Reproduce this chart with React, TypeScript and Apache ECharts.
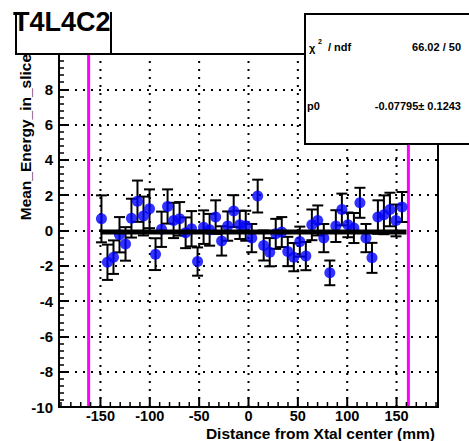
import React, { useEffect, useRef } from "react";
import * as echarts from "echarts";

const FONT = "'Liberation Sans', Arial, Helvetica, sans-serif";

const xValues = [
  -149.0, -142.9, -136.8, -130.7, -124.6, -118.6, -112.5, -106.4, -100.3, -94.2,
  -88.1, -82.0, -75.9, -69.8, -63.7, -57.7, -51.6, -45.5, -39.4, -33.3,
  -27.2, -21.1, -15.0, -8.9, -2.8, 3.3, 9.3, 15.4, 21.5, 27.6,
  33.7, 39.8, 45.9, 52.0, 58.1, 64.2, 70.2, 76.3, 82.4, 88.5,
  94.6, 100.7, 106.8, 112.9, 119.0, 125.1, 131.1, 137.2, 143.3, 149.4,
  155.5,
];
const yValues = [
  0.66, -1.8, -1.51, -0.24, -0.76, 0.7, 1.66, 0.82, 1.23, -1.34,
  0.07, 1.36, 0.57, 0.66, -0.13, 0.1, -1.76, 0.19, 0.04, 0.76,
  -0.59, 0.25, 1.1, 0.32, 0.27, -0.43, 1.95, -0.85, -1.23, -0.19,
  -0.09, -1.19, -1.51, -0.63, -1.45, 0.32, 0.57, -0.43, -2.4, 0.25,
  1.19, 0.32, 0.14, 1.57, -0.43, -1.55, 0.76, 0.89, 1.19, 0.57,
  1.33,
];
const yErrors = [
  1.33, 1.0, 0.95, 1.0, 0.95, 1.1, 1.17, 1.1, 1.1, 0.9,
  1.0, 0.97, 1.0, 0.95, 0.87, 1.0, 0.8, 0.95, 0.9, 0.95,
  0.83, 0.83, 0.9, 0.8, 0.85, 0.8, 0.93, 0.85, 0.8, 0.85,
  0.85, 0.83, 0.8, 0.85, 0.8, 0.87, 0.85, 0.8, 0.7, 0.9,
  0.9, 0.7, 0.85, 0.85, 0.8, 0.85, 0.95, 1.1, 0.95, 0.9,
  0.85,
];

const fitP0 = -0.07795;
const fitRange = [-150, 160];
const boundaryX = [-162, 162];

const xMin = -192;
const xMax = 192;
const yMin = -10;
const yMax = 10;
const xMajorTicks = [-150, -100, -50, 0, 50, 100, 150];
const xMinorTicks = [
  -190, -180, -170, -160, -140, -130, -120, -110, -90, -80, -70, -60, -40, -30, -20, -10,
  10, 20, 30, 40, 60, 70, 80, 90, 110, 120, 130, 140, 160, 170, 180, 190,
];

const titleText = "T4L4C2";
const xTitle = "Distance from Xtal center (mm)";
const yTitle = "Mean_Energy_in_slice";
const statsChi = "66.02 / 50";
const statsP0 = "-0.07795\u00b1 0.1243";

export default function App() {
  const ref = useRef<HTMLDivElement>(null);
  useEffect(() => {
    if (!ref.current) return;
    const chart = echarts.init(ref.current, null, { renderer: "svg" });

    const pointData = xValues.map((x, i) => [x, yValues[i]]);
    const errData = xValues.map((x, i) => [x, yValues[i], yErrors[i]]);
    const fitData = fitRange.map((x) => [x, fitP0]);
    const tickData = [
      ...xMajorTicks.map((v) => [v, 0, 10]),
      ...xMinorTicks.map((v) => [v, 0, 5]),
    ];

    const option: any = {
      animation: false,
      backgroundColor: "#fff",
      grid: {
        left: 59,
        top: 54,
        width: 379,
        height: 353,
        show: true,
        borderColor: "#000",
        borderWidth: 2,
        backgroundColor: "transparent",
      },
      xAxis: {
        type: "value",
        min: xMin,
        max: xMax,
        axisLine: { show: true, onZero: false, lineStyle: { color: "#000", width: 2 } },
        axisTick: { show: false },
        splitLine: { show: false },
        axisLabel: {
          customValues: xMajorTicks,
          color: "#000",
          fontFamily: FONT,
          fontWeight: "bold",
          fontSize: 14.5,
          lineHeight: 13,
          margin: 2.5,
        },
      },
      yAxis: {
        type: "value",
        min: yMin,
        max: yMax,
        interval: 2,
        axisLine: { show: true, onZero: false, lineStyle: { color: "#000", width: 2 } },
        axisTick: { show: true, inside: true, length: 10, lineStyle: { color: "#000", width: 2 } },
        minorTick: { show: true, splitNumber: 5, length: 5, lineStyle: { color: "#000", width: 1.5 } },
        splitLine: { show: true, lineStyle: { color: "#000", width: 2, type: [2, 6] } },
        axisLabel: {
          showMaxLabel: false,
          color: "#000",
          fontFamily: FONT,
          fontWeight: "bold",
          fontSize: 15,
          lineHeight: 13,
          margin: 6,
        },
      },
      series: [
        {
          type: "custom",
          name: "xgrid",
          z: 1,
          silent: true,
          data: xMajorTicks.map((v) => [v, 0]),
          encode: { x: 0, y: 1 },
          renderItem: (params: any, api: any) => {
            const v = api.value(0);
            const a = api.coord([v, yMin]);
            const b = api.coord([v, yMax]);
            return {
              type: "line",
              shape: { x1: a[0], y1: a[1], x2: b[0], y2: b[1] },
              style: { stroke: "#000", lineWidth: 2, lineDash: [2, 6] },
            };
          },
        },
        {
          type: "custom",
          name: "boundaries",
          z: 2,
          silent: true,
          data: boundaryX.map((v) => [v, 0]),
          encode: { x: 0, y: 1 },
          renderItem: (params: any, api: any) => {
            const v = api.value(0);
            const a = api.coord([v, yMin]);
            const b = api.coord([v, yMax]);
            return {
              type: "line",
              shape: { x1: a[0], y1: a[1] - 1, x2: b[0], y2: b[1] + 1 },
              style: { stroke: "#ff00ff", lineWidth: 3 },
            };
          },
        },
        {
          type: "custom",
          name: "errors",
          z: 3,
          silent: true,
          data: errData,
          encode: { x: 0, y: 1 },
          renderItem: (params: any, api: any) => {
            const x = api.value(0);
            const y = api.value(1);
            const e = api.value(2);
            const t = api.coord([x, y + e]);
            const b = api.coord([x, y - e]);
            const cw = 5.5;
            const st = { stroke: "#000", lineWidth: 2 };
            return {
              type: "group",
              children: [
                { type: "line", shape: { x1: t[0], y1: t[1], x2: b[0], y2: b[1] }, style: st },
                { type: "line", shape: { x1: t[0] - cw, y1: t[1], x2: t[0] + cw, y2: t[1] }, style: st },
                { type: "line", shape: { x1: b[0] - cw, y1: b[1], x2: b[0] + cw, y2: b[1] }, style: st },
              ],
            };
          },
        },
        {
          type: "scatter",
          name: "points",
          z: 4,
          data: pointData,
          symbol: "circle",
          symbolSize: 11,
          itemStyle: { color: "#0000ff" },
        },
        {
          type: "line",
          name: "fit",
          z: 5,
          data: fitData,
          symbol: "none",
          lineStyle: { color: "#000", width: 5 },
        },
        {
          type: "custom",
          name: "xticks",
          z: 6,
          silent: true,
          data: tickData,
          encode: { x: 0, y: 1 },
          renderItem: (params: any, api: any) => {
            const v = api.value(0);
            const len = api.value(2);
            const a = api.coord([v, yMin]);
            return {
              type: "line",
              shape: { x1: a[0], y1: a[1], x2: a[0], y2: a[1] - len },
              style: { stroke: "#000", lineWidth: len > 6 ? 2 : 1.5 },
            };
          },
        },
      ],
      graphic: [
        {
          type: "text",
          x: 25,
          y: 54,
          rotation: Math.PI / 2,
          z: 10,
          style: {
            text: yTitle,
            fill: "#000",
            fontFamily: FONT,
            fontWeight: "bold",
            fontSize: 15.5,
            lineHeight: 13,
            textAlign: "right",
            textVerticalAlign: "middle",
          },
        },
        {
          type: "text",
          x: 435,
          y: 433.5,
          z: 10,
          style: {
            text: xTitle,
            fill: "#000",
            fontFamily: FONT,
            fontWeight: "bold",
            fontSize: 15.5,
            lineHeight: 13,
            textAlign: "right",
            textVerticalAlign: "middle",
          },
        },
        {
          type: "rect",
          z: 20,
          shape: { x: 16, y: 11, width: 95, height: 43 },
          style: { fill: "#fff", stroke: null },
        },
        {
          type: "polyline",
          z: 21,
          shape: { points: [[16, 12], [16, 54], [111, 54], [111, 12]] },
          style: { stroke: "#000", lineWidth: 2, fill: null },
        },
        {
          type: "text",
          x: 13,
          y: 22,
          z: 22,
          style: {
            text: titleText,
            fill: "#000",
            fontFamily: FONT,
            fontWeight: "bold",
            fontSize: 27,
            textAlign: "left",
            textVerticalAlign: "middle",
          },
        },
        {
          type: "rect",
          z: 20,
          shape: { x: 305, y: 14, width: 175, height: 130 },
          style: { fill: "#fff", stroke: "#000", lineWidth: 2 },
        },
        {
          type: "text",
          x: 309,
          y: 48,
          z: 22,
          style: { text: "\u03c7", fill: "#000", fontFamily: FONT, fontWeight: "bold", fontSize: 11, textVerticalAlign: "middle" },
        },
        {
          type: "text",
          x: 318,
          y: 41,
          z: 22,
          style: { text: "2", fill: "#000", fontFamily: FONT, fontWeight: "bold", fontSize: 7, textVerticalAlign: "middle" },
        },
        {
          type: "text",
          x: 328,
          y: 47,
          z: 22,
          style: { text: "/ ndf", fill: "#000", fontFamily: FONT, fontWeight: "bold", fontSize: 11, textVerticalAlign: "middle" },
        },
        {
          type: "text",
          x: 461,
          y: 47,
          z: 22,
          style: { text: statsChi, fill: "#000", fontFamily: FONT, fontWeight: "bold", fontSize: 11, textAlign: "right", textVerticalAlign: "middle" },
        },
        {
          type: "text",
          x: 307,
          y: 106,
          z: 22,
          style: { text: "p0", fill: "#000", fontFamily: FONT, fontWeight: "bold", fontSize: 11, textVerticalAlign: "middle" },
        },
        {
          type: "text",
          x: 461,
          y: 106,
          z: 22,
          style: { text: statsP0, fill: "#000", fontFamily: FONT, fontWeight: "bold", fontSize: 11, textAlign: "right", textVerticalAlign: "middle" },
        },
      ],
    };

    chart.setOption(option);
    return () => chart.dispose();
  }, []);

  return (
    <div
      ref={ref}
      style={{ position: "fixed", left: 0, top: 0, width: 469, height: 441, background: "#fff" }}
    />
  );
}
